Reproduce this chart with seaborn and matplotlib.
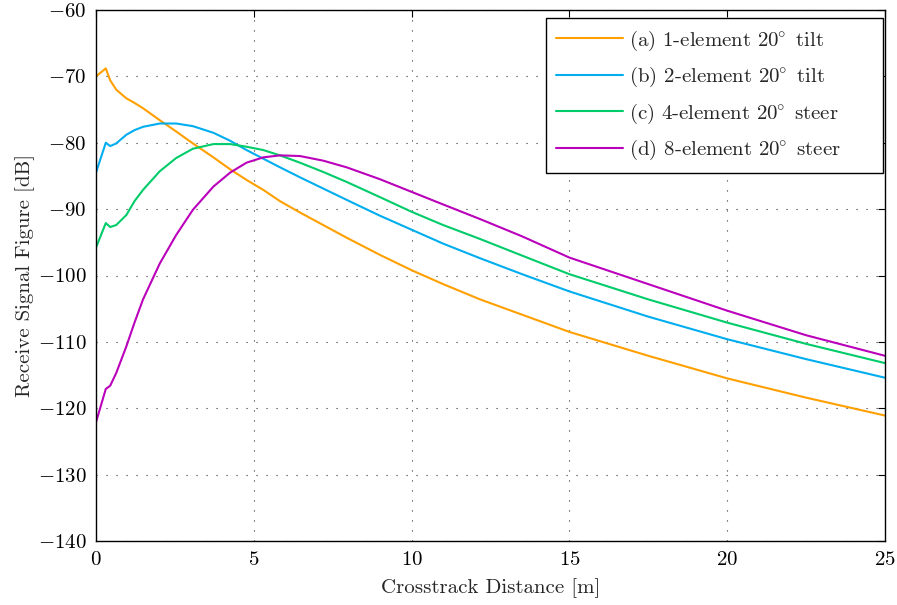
import numpy as np
import pandas as pd
import seaborn as sns
import matplotlib
matplotlib.use("Agg")
import matplotlib.pyplot as plt

# ---- data ----
x_m = [0, 0.31, 0.45, 0.64, 0.96, 1.22, 1.49, 2.02, 2.54, 3.07, 3.72, 4.25, 4.77,
       5.30, 5.83, 6.46, 7.2, 7.94, 9.0, 10.0, 11.0, 12.17, 13.5, 15.0, 17.5,
       20.0, 22.5, 25.0]
sig_a = [-70.0, -68.8, -70.6, -72.0, -73.3, -74.0, -74.8, -76.6, -78.3, -80.1,
         -82.2, -84.0, -85.6, -87.1, -88.8, -90.5, -92.4, -94.3, -96.9, -99.2,
         -101.3, -103.6, -105.9, -108.5, -112.1, -115.5, -118.4, -121.1]
sig_b = [-84.5, -80.0, -80.5, -80.1, -78.8, -78.1, -77.6, -77.1, -77.1, -77.5,
         -78.5, -79.7, -81.1, -82.4, -83.7, -85.2, -86.9, -88.6, -91.0, -93.1,
         -95.2, -97.4, -99.8, -102.4, -106.2, -109.6, -112.6, -115.4]
sig_c = [-95.8, -92.1, -92.7, -92.4, -90.9, -88.8, -87.1, -84.3, -82.3, -80.9,
         -80.2, -80.2, -80.6, -81.1, -81.9, -83.0, -84.4, -85.9, -88.2, -90.4,
         -92.4, -94.5, -97.0, -99.8, -103.6, -107.1, -110.3, -113.2]
sig_d = [-122.1, -117.1, -116.6, -114.7, -110.7, -107.1, -103.6, -98.2, -93.9,
         -90.1, -86.6, -84.5, -83.0, -82.2, -81.9, -82.0, -82.7, -83.7, -85.5,
         -87.4, -89.3, -91.5, -94.1, -97.3, -101.3, -105.3, -109.0, -112.1]
labels = [r"(a) 1-element 20$^{\!\!\circ}$ tilt",
          r"(b) 2-element 20$^{\!\!\circ}$ tilt",
          r"(c) 4-element 20$^{\!\!\circ}$ steer",
          r"(d) 8-element 20$^{\!\!\circ}$ steer"]
colors = ["#FFA000", "#00AEEF", "#00CC6A", "#BB00BB"]
xticks = [0, 5, 10, 15, 20, 25]
yticks = [-140, -130, -120, -110, -100, -90, -80, -70, -60]

frames = []
for lab, ys in zip(labels, [sig_a, sig_b, sig_c, sig_d]):
    frames.append(pd.DataFrame({"x": x_m, "y": ys, "series": lab}))
df = pd.concat(frames, ignore_index=True)

sns.set_theme(style="white")
plt.rcParams.update({
    "font.family": "serif",
    "font.serif": ["cmr10", "DejaVu Serif"],
    "mathtext.fontset": "cm",
    "axes.formatter.use_mathtext": True,
    "axes.unicode_minus": True,
})

fig = plt.figure(figsize=(8.97, 6.05), dpi=100)
ax = fig.add_axes([96 / 897, 1 - 541 / 605, (885 - 96) / 897, (541 - 10) / 605])

sns.lineplot(data=df, x="x", y="y", hue="series", palette=colors,
             estimator=None, sort=False, linewidth=1.5, ax=ax)

ax.set_xlim(0, 25)
ax.set_ylim(-140, -60)
ax.set_xticks(xticks)
ax.set_yticks(yticks)
ax.set_xlabel("Crosstrack Distance [m]", fontsize=15, labelpad=7)
ax.set_ylabel("Receive Signal Figure [dB]", fontsize=15, labelpad=2)
ax.tick_params(direction="in", length=5, width=0.8, top=True, right=True,
               labelsize=15, colors="black", pad=7)
ax.grid(True, linestyle=(0, (1, 8)), color="#333333", linewidth=0.8)
for s in ax.spines.values():
    s.set_color("black")
    s.set_linewidth(1.0)

leg = ax.legend(loc="upper left", bbox_to_anchor=(0.5703, 0.693, 0.4271, 0.292),
                mode="expand", borderaxespad=0.0,
                fontsize=15, handlelength=3.2,
                frameon=True, fancybox=False, edgecolor="black",
                labelspacing=0.6, borderpad=0.5, handletextpad=0.3)
leg.get_frame().set_linewidth(1.0)
leg.get_frame().set_alpha(1.0)

fig.savefig("out.png", dpi=100)
